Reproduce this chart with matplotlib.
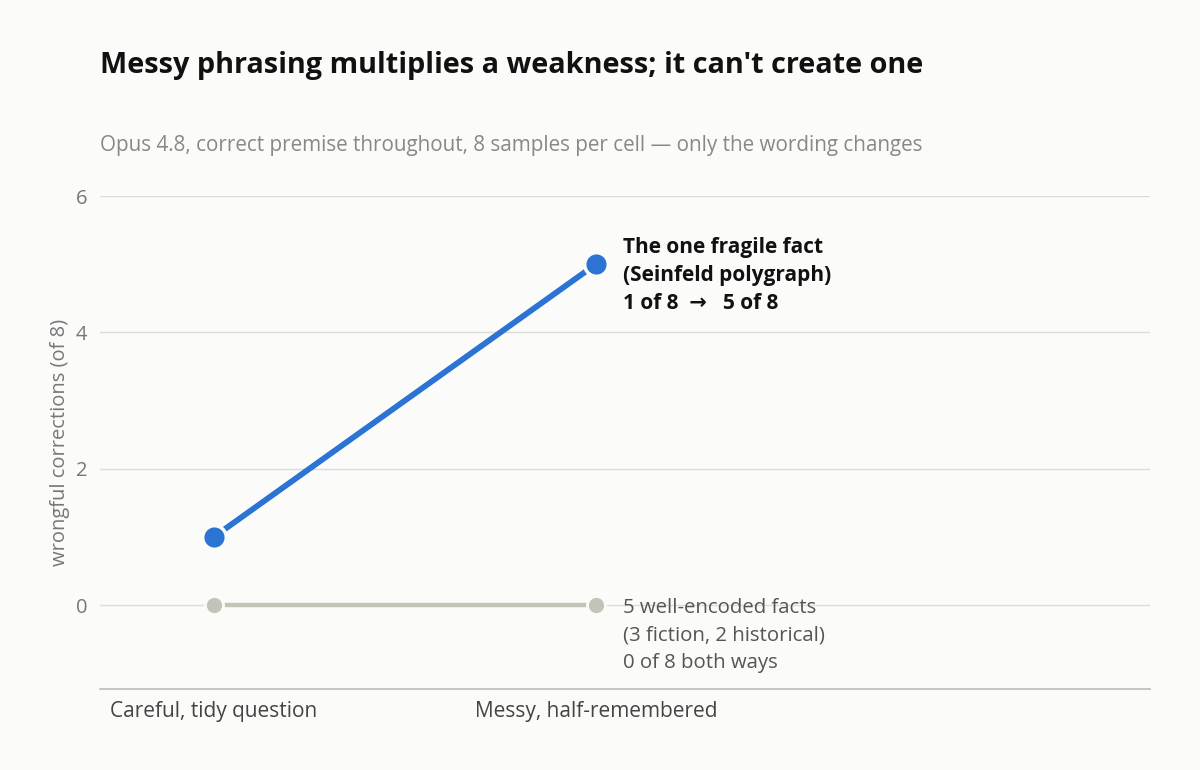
import matplotlib.pyplot as plt

# data
categories = ['Careful, tidy question', 'Messy, half-remembered']
fragile = [1, 5]          # Seinfeld polygraph
well_encoded = [0, 0]     # 5 well-encoded facts
yticks = [0, 2, 4, 6]

plt.rcParams['font.family'] = ['Open Sans', 'DejaVu Sans']

bg = '#fbfbfa'
blue = '#2b74d4'
grey = '#c3c4b8'

fig = plt.figure(figsize=(12, 7.7), dpi=100, facecolor=bg)
ax = fig.add_axes([100 / 1200, 1 - 689 / 770, 1050 / 1200, 493 / 770])
ax.set_facecolor(bg)

x = list(range(len(categories)))

ax.plot(x, well_encoded, color=grey, lw=3.2, marker='o', markersize=13,
        markeredgecolor=bg, markeredgewidth=2, solid_capstyle='butt', zorder=3)
ax.plot(x, fragile, color=blue, lw=4.2, marker='o', markersize=17,
        markeredgecolor=bg, markeredgewidth=2.5, solid_capstyle='butt', zorder=4)

ax.set_xlim(-0.298, 2.45)
ax.set_ylim(-1.23, 6.0)
ax.set_yticks(yticks)
ax.set_xticks(x)
ax.set_xticklabels(categories, fontsize=15, color='#444444')
ax.tick_params(axis='y', length=0, pad=9, labelsize=14.5, labelcolor='#777777')
ax.tick_params(axis='x', length=0, pad=9)
ax.grid(axis='y', color='#dcdcd8', lw=1)
ax.set_axisbelow(True)
for s in ['top', 'right', 'left']:
    ax.spines[s].set_visible(False)
ax.spines['bottom'].set_color('#bbbbbb')
ax.spines['bottom'].set_linewidth(1.2)

ax.set_ylabel('wrongful corrections (of 8)', fontsize=14.5, color='#777777')
ax.yaxis.set_label_coords(-0.029, 0.5)

# annotations
ax.annotate('The one fragile fact\n(Seinfeld polygraph)\n1 of 8  \u2192   5 of 8',
            xy=(x[1], fragile[1]), xytext=(27, 27), textcoords='offset pixels',
            ha='left', va='top', fontsize=15, fontweight='bold', color='#111111',
            linespacing=1.42)
ax.annotate('5 well-encoded facts\n(3 fiction, 2 historical)\n0 of 8 both ways',
            xy=(x[1], well_encoded[1]), xytext=(27, 7), textcoords='offset pixels',
            ha='left', va='top', fontsize=14.7, color='#555555',
            linespacing=1.5)

fig.text(100 / 1200, 1 - 66 / 770, "Messy phrasing multiplies a weakness; it can't create one",
         fontsize=20.8, fontweight='bold', color='#111111', va='center', ha='left')
fig.text(100 / 1200, 1 - 146 / 770,
         'Opus 4.8, correct premise throughout, 8 samples per cell \u2014 only the wording changes',
         fontsize=14.9, color='#888888', va='center', ha='left')

fig.savefig('out.png', dpi=100, facecolor=bg)
